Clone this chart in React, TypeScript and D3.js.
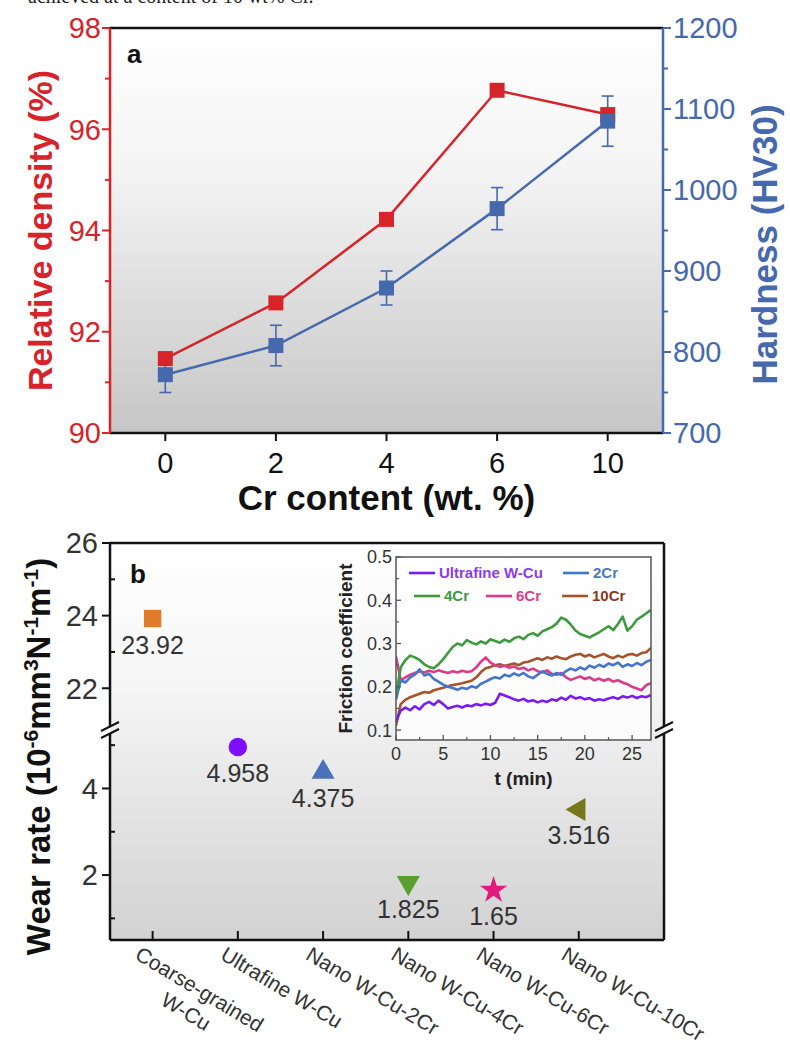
import React from 'react';
import * as d3 from 'd3';

const FONT = '"Liberation Sans", Arial, Helvetica, sans-serif';
const RED = '#d7232a';
const BLUE = '#4669ad';
const INK = '#333333';

// ---- Panel a: density and hardness vs Cr content ----
const crContent = ['0', '2', '4', '6', '10'];
const relativeDensity = [91.47, 92.57, 94.22, 96.77, 96.29];
const hardnessHV = [772, 808, 879, 977, 1085];
const hardnessErr = [22, 25, 21, 26, 31];
const densityTicks = [90, 92, 94, 96, 98];
const densityMinor = [91, 93, 95, 97];
const hardnessTicks = [700, 800, 900, 1000, 1100, 1200];
const hardnessMinor = [750, 850, 950, 1050, 1150];

// ---- Panel b: wear rate per sample ----
const sampleNames = [
  ['Coarse-grained', 'W-Cu'],
  ['Ultrafine W-Cu'],
  ['Nano W-Cu-2Cr'],
  ['Nano W-Cu-4Cr'],
  ['Nano W-Cu-6Cr'],
  ['Nano W-Cu-10Cr'],
];
const wearRate = [23.92, 4.958, 4.375, 1.825, 1.65, 3.516];
const wearLabel = ['23.92', '4.958', '4.375', '1.825', '1.65', '3.516'];
const wearColor = ['#e07b2a', '#7f0dff', '#4a72b8', '#5a9f2c', '#e2197f', '#77771c'];
const wearShape = ['square', 'circle', 'triangle', 'triangleDown', 'star', 'triangleLeft'];
const wearTicksUpper = [22, 24, 26];
const wearMinorUpper = [23, 25];
const wearTicksLower = [2, 4];
const wearMinorLower = [1, 3, 5];

// ---- Inset: friction coefficient vs time (sampled every 0.5 min) ----
const frictionStep = 0.5;
const fUltrafine = [
  0.120, 0.145, 0.152, 0.146, 0.155, 0.148, 0.160, 0.165, 0.158, 0.168,
  0.160, 0.150, 0.153, 0.156, 0.152, 0.157, 0.155, 0.160, 0.157, 0.161,
  0.158, 0.163, 0.184, 0.180, 0.176, 0.171, 0.168, 0.172, 0.166, 0.169,
  0.164, 0.168, 0.165, 0.171, 0.168, 0.175, 0.170, 0.179, 0.173, 0.176,
  0.171, 0.174, 0.168, 0.171, 0.169, 0.173, 0.176, 0.172, 0.178, 0.175,
  0.179, 0.174, 0.178, 0.176, 0.181,
];
const f2Cr = [
  0.170, 0.215, 0.210, 0.222, 0.228, 0.240, 0.226, 0.230, 0.218, 0.212,
  0.205, 0.200, 0.197, 0.193, 0.198, 0.195, 0.201, 0.198, 0.207, 0.212,
  0.218, 0.222, 0.219, 0.228, 0.224, 0.231, 0.226, 0.232, 0.224, 0.220,
  0.228, 0.236, 0.230, 0.226, 0.232, 0.228, 0.236, 0.242, 0.238, 0.245,
  0.240, 0.249, 0.244, 0.251, 0.246, 0.254, 0.250, 0.256, 0.246, 0.252,
  0.248, 0.255, 0.250, 0.258, 0.262,
];
const f4Cr = [
  0.180, 0.245, 0.262, 0.272, 0.268, 0.262, 0.252, 0.246, 0.243, 0.252,
  0.264, 0.278, 0.292, 0.300, 0.296, 0.308, 0.302, 0.298, 0.305, 0.300,
  0.310, 0.306, 0.302, 0.309, 0.304, 0.312, 0.316, 0.310, 0.320, 0.324,
  0.318, 0.328, 0.333, 0.338, 0.346, 0.360, 0.355, 0.344, 0.330, 0.322,
  0.318, 0.314, 0.320, 0.326, 0.333, 0.340, 0.331, 0.345, 0.362, 0.330,
  0.340, 0.355, 0.362, 0.370, 0.378,
];
const f6Cr = [
  0.270, 0.215, 0.222, 0.228, 0.232, 0.236, 0.233, 0.237, 0.234, 0.238,
  0.235, 0.232, 0.236, 0.233, 0.237, 0.234, 0.236, 0.245, 0.258, 0.268,
  0.256, 0.250, 0.246, 0.249, 0.244, 0.247, 0.241, 0.244, 0.238, 0.242,
  0.236, 0.233, 0.238, 0.230, 0.228, 0.232, 0.222, 0.216, 0.220, 0.224,
  0.218, 0.222, 0.215, 0.219, 0.214, 0.218, 0.212, 0.215, 0.210, 0.206,
  0.200, 0.196, 0.192, 0.204, 0.208,
];
const f10Cr = [
  0.110, 0.160, 0.170, 0.176, 0.180, 0.184, 0.188, 0.186, 0.192, 0.195,
  0.198, 0.201, 0.204, 0.206, 0.208, 0.211, 0.214, 0.222, 0.234, 0.243,
  0.246, 0.250, 0.252, 0.248, 0.251, 0.254, 0.250, 0.256, 0.258, 0.262,
  0.266, 0.262, 0.268, 0.265, 0.270, 0.266, 0.264, 0.270, 0.274, 0.276,
  0.270, 0.274, 0.268, 0.272, 0.276, 0.270, 0.266, 0.272, 0.268, 0.274,
  0.276, 0.272, 0.278, 0.280, 0.290,
];
const frictionSeries = [
  { name: '10Cr', color: '#a3542a', values: f10Cr },
  { name: '6Cr', color: '#dc3a8a', values: f6Cr },
  { name: '2Cr', color: '#4476cc', values: f2Cr },
  { name: '4Cr', color: '#3f9a3f', values: f4Cr },
  { name: 'Ultrafine W-Cu', color: '#7a1cf0', values: fUltrafine },
];
const timeTicks = [0, 5, 10, 15, 20, 25];
const timeMinor = [2.5, 7.5, 12.5, 17.5, 22.5];
const frictionTicks = [0.1, 0.2, 0.3, 0.4, 0.5];
const frictionMinor = [0.15, 0.25, 0.35, 0.45];

function symbolPath(shape: string): { d: string; rot: number } {
  switch (shape) {
    case 'square':
      return { d: d3.symbol().type(d3.symbolSquare).size(300)() as string, rot: 0 };
    case 'circle':
      return { d: d3.symbol().type(d3.symbolCircle).size(270)() as string, rot: 0 };
    case 'triangle':
      return { d: d3.symbol().type(d3.symbolTriangle).size(230)() as string, rot: 0 };
    case 'triangleDown':
      return { d: d3.symbol().type(d3.symbolTriangle).size(230)() as string, rot: 180 };
    case 'triangleLeft':
      return { d: d3.symbol().type(d3.symbolTriangle).size(230)() as string, rot: -90 };
    default:
      return { d: d3.symbol().type(d3.symbolStar).size(230)() as string, rot: 0 };
  }
}

export default function App() {
  // panel a geometry
  const aL = 110, aR = 663, aT = 28, aB = 433;
  const xA = d3.scaleLinear().domain([-0.5, 4.5]).range([aL, aR]);
  const yDen = d3.scaleLinear().domain([90, 98]).range([aB, aT]);
  const yHv = d3.scaleLinear().domain([700, 1200]).range([aB, aT]);

  const denLine = d3.line<number>().x((_, i) => xA(i)).y((d) => yDen(d))(relativeDensity) as string;
  const hvLine = d3.line<number>().x((_, i) => xA(i)).y((d) => yHv(d))(hardnessHV) as string;

  // panel b geometry (broken y axis)
  const bL = 110, bR = 664, bT = 543, bB = 940, brk = 730;
  const xB = d3.scaleLinear().domain([-0.5, 6]).range([bL, bR]);
  const yUp = d3.scaleLinear().domain([20.85, 26]).range([brk, bT]);
  const yLo = d3.scaleLinear().domain([0.5, 5.35]).range([bB, brk]);
  const yB = (v: number) => (v >= 15 ? yUp(v) : yLo(v));

  // inset geometry
  const iL = 396, iR = 651, iT = 557, iB = 740;
  const xI = d3.scaleLinear().domain([0, 27]).range([iL, iR]);
  const yI = d3.scaleLinear().domain([0.077, 0.5]).range([iB, iT]);
  const fLine = d3.line<number>().x((_, i) => xI(i * frictionStep)).y((d) => yI(d));

  const legendRows = [
    [
      { name: 'Ultrafine W-Cu', color: '#7a1cf0', x: 409 },
      { name: '2Cr', color: '#4476cc', x: 563 },
    ],
    [
      { name: '4Cr', color: '#3f9a3f', x: 414 },
      { name: '6Cr', color: '#dc3a8a', x: 486 },
      { name: '10Cr', color: '#a3542a', x: 562 },
    ],
  ];
  const legendTextColor: Record<string, string> = {
    'Ultrafine W-Cu': '#8a3ce8',
    '2Cr': '#4a78c8',
    '4Cr': '#3f9a3f',
    '6Cr': '#d8408c',
    '10Cr': '#8a3a22',
  };

  const catFont = 21;

  return (
    <svg
      width={790}
      height={1046}
      viewBox="0 0 790 1046"
      style={{ position: 'absolute', left: 0, top: 0, background: '#fff' }}
      fontFamily={FONT}
    >
      <defs>
        <linearGradient id="bgA" x1="0" y1="0" x2="0" y2="1">
          <stop offset="0" stopColor="#ffffff" />
          <stop offset="0.35" stopColor="#f4f4f4" />
          <stop offset="1" stopColor="#c6c6c6" />
        </linearGradient>
        <linearGradient id="bgB" x1="0" y1="0" x2="0" y2="1">
          <stop offset="0" stopColor="#ffffff" />
          <stop offset="0.35" stopColor="#f6f6f6" />
          <stop offset="1" stopColor="#d2d2d2" />
        </linearGradient>
        <clipPath id="insetClip">
          <rect x={iL} y={iT} width={iR - iL} height={iB - iT} />
        </clipPath>
      </defs>

      {/* caption line above the figure */}
      <text x={28} y={3} fontFamily="'Liberation Serif', serif" fontSize={20} fill="#222">
        achieved at a content of 10 wt% Cr.
      </text>

      {/* ================= Panel a ================= */}
      <rect x={aL} y={aT} width={aR - aL} height={aB - aT} fill="url(#bgA)" />
      <line x1={aL} x2={aR} y1={aT} y2={aT} stroke="#111" strokeWidth={2.5} />
      <line x1={aL} x2={aR} y1={aB} y2={aB} stroke="#111" strokeWidth={2.5} />
      <line x1={aL} x2={aL} y1={aT} y2={aB} stroke={RED} strokeWidth={2.5} />
      <line x1={aR} x2={aR} y1={aT} y2={aB} stroke={BLUE} strokeWidth={2.5} />

      {densityTicks.map((t) => (
        <g key={'dt' + t}>
          <line x1={aL - 8} x2={aL} y1={yDen(t)} y2={yDen(t)} stroke={RED} strokeWidth={2} />
          <text x={aL - 9} y={yDen(t)} dy="0.36em" textAnchor="end" fontSize={29} fill={RED}>
            {t}
          </text>
        </g>
      ))}
      {densityMinor.map((t) => (
        <line key={'dm' + t} x1={aL - 5} x2={aL} y1={yDen(t)} y2={yDen(t)} stroke={RED} strokeWidth={2} />
      ))}
      {hardnessTicks.map((t) => (
        <g key={'ht' + t}>
          <line x1={aR} x2={aR + 8} y1={yHv(t)} y2={yHv(t)} stroke={BLUE} strokeWidth={2} />
          <text x={aR + 10} y={yHv(t)} dy="0.36em" textAnchor="start" fontSize={29} fill={BLUE}>
            {t}
          </text>
        </g>
      ))}
      {hardnessMinor.map((t) => (
        <line key={'hm' + t} x1={aR} x2={aR + 5} y1={yHv(t)} y2={yHv(t)} stroke={BLUE} strokeWidth={2} />
      ))}
      {crContent.map((c, i) => (
        <g key={'cx' + c}>
          <line x1={xA(i)} x2={xA(i)} y1={aB} y2={aB + 8} stroke="#111" strokeWidth={2} />
          <text x={xA(i)} y={aB + 40} textAnchor="middle" fontSize={29} fill="#111">
            {c}
          </text>
        </g>
      ))}

      <text x={127} y={63} fontSize={26} fontWeight="bold" fill="#111">a</text>

      <path d={denLine} fill="none" stroke={RED} strokeWidth={2.5} />
      <path d={hvLine} fill="none" stroke={BLUE} strokeWidth={2.5} />
      {hardnessHV.map((v, i) => (
        <g key={'eb' + i} stroke={BLUE} strokeWidth={1.6}>
          <line x1={xA(i)} x2={xA(i)} y1={yHv(v - hardnessErr[i])} y2={yHv(v + hardnessErr[i])} />
          <line x1={xA(i) - 6} x2={xA(i) + 6} y1={yHv(v - hardnessErr[i])} y2={yHv(v - hardnessErr[i])} />
          <line x1={xA(i) - 6} x2={xA(i) + 6} y1={yHv(v + hardnessErr[i])} y2={yHv(v + hardnessErr[i])} />
        </g>
      ))}
      {relativeDensity.map((v, i) => (
        <rect key={'dp' + i} x={xA(i) - 7.5} y={yDen(v) - 7.5} width={15} height={15} fill={RED} />
      ))}
      {hardnessHV.map((v, i) => (
        <rect key={'hp' + i} x={xA(i) - 7.5} y={yHv(v) - 7.5} width={15} height={15} fill={BLUE} />
      ))}

      <text
        transform={`translate(52,${(aT + aB) / 2}) rotate(-90)`}
        textAnchor="middle"
        fontSize={34}
        fontWeight="bold"
        fill={RED}
      >
        Relative density (%)
      </text>
      <text
        transform={`translate(777,${(aT + aB) / 2 + 14}) rotate(-90)`}
        textAnchor="middle"
        fontSize={35}
        fontWeight="bold"
        fill={BLUE}
      >
        Hardness (HV30)
      </text>
      <text x={(aL + aR) / 2} y={510} textAnchor="middle" fontSize={35} fontWeight="bold" fill="#111">
        Cr content (wt. %)
      </text>

      {/* ================= Panel b ================= */}
      <rect x={bL} y={bT} width={bR - bL} height={bB - bT} fill="url(#bgB)" />
      <line x1={bL} x2={bR} y1={bT} y2={bT} stroke="#111" strokeWidth={2.5} />
      <line x1={bL} x2={bR} y1={bB} y2={bB} stroke="#111" strokeWidth={2.5} />
      <line x1={bL} x2={bL} y1={bT} y2={brk - 4} stroke="#111" strokeWidth={2.5} />
      <line x1={bL} x2={bL} y1={brk + 4} y2={bB} stroke="#111" strokeWidth={2.5} />
      <line x1={bR} x2={bR} y1={bT} y2={brk - 4} stroke="#111" strokeWidth={2.5} />
      <line x1={bR} x2={bR} y1={brk + 4} y2={bB} stroke="#111" strokeWidth={2.5} />
      {[bL, bR].map((x) => (
        <g key={'brk' + x} stroke="#111" strokeWidth={2}>
          <line x1={x - 9} x2={x + 9} y1={brk + 1} y2={brk - 8} />
          <line x1={x - 9} x2={x + 9} y1={brk + 8} y2={brk - 1} />
        </g>
      ))}

      {wearTicksUpper.map((t) => (
        <g key={'wu' + t}>
          <line x1={bL - 8} x2={bL} y1={yUp(t)} y2={yUp(t)} stroke="#111" strokeWidth={2} />
          <text x={bL - 12} y={yUp(t)} dy="0.36em" textAnchor="end" fontSize={29} fill={INK}>
            {t}
          </text>
        </g>
      ))}
      {wearTicksLower.map((t) => (
        <g key={'wl' + t}>
          <line x1={bL - 8} x2={bL} y1={yLo(t)} y2={yLo(t)} stroke="#111" strokeWidth={2} />
          <text x={bL - 12} y={yLo(t)} dy="0.36em" textAnchor="end" fontSize={29} fill={INK}>
            {t}
          </text>
        </g>
      ))}
      {wearMinorUpper.map((t) => (
        <line key={'wmu' + t} x1={bL} x2={bL + 5} y1={yUp(t)} y2={yUp(t)} stroke="#111" strokeWidth={2} />
      ))}
      {wearMinorLower.map((t) => (
        <line key={'wml' + t} x1={bL} x2={bL + 5} y1={yLo(t)} y2={yLo(t)} stroke="#111" strokeWidth={2} />
      ))}
      {sampleNames.map((lines, i) => (
        <g key={'sx' + i}>
          <line x1={xB(i)} x2={xB(i)} y1={bB - 9} y2={bB} stroke="#111" strokeWidth={2} />
          <g transform={`translate(${xB(i) - 10},${bB + 4}) rotate(31)`}>
            {lines.length === 1 ? (
              <text x={0} y={0} dy="0.8em" fontSize={catFont} fill={INK}>
                {lines[0]}
              </text>
            ) : (
              lines.map((s, k) => (
                <text key={s} x={72} y={k * 26} dy="0.8em" textAnchor="middle" fontSize={catFont} fill={INK}>
                  {s}
                </text>
              ))
            )}
          </g>
        </g>
      ))}

      <text x={130} y={583} fontSize={26} fontWeight="bold" fill="#111">b</text>

      {wearRate.map((v, i) => {
        const s = symbolPath(wearShape[i]);
        return (
          <g key={'wp' + i}>
            <path
              d={s.d}
              transform={`translate(${xB(i)},${yB(v)}) rotate(${s.rot})`}
              fill={wearColor[i]}
            />
            <text x={xB(i)} y={yB(v) + 35} textAnchor="middle" fontSize={25} fill={INK}>
              {wearLabel[i]}
            </text>
          </g>
        );
      })}

      <text
        transform={`translate(50,${(bT + bB) / 2 + 15}) rotate(-90)`}
        textAnchor="middle"
        fontSize={33}
        fontWeight="bold"
        fill="#111"
      >
        Wear rate (10<tspan dy="-12" fontSize={21}>-6</tspan>
        <tspan dy="12">mm</tspan>
        <tspan dy="-12" fontSize={21}>3</tspan>
        <tspan dy="12">N</tspan>
        <tspan dy="-12" fontSize={21}>-1</tspan>
        <tspan dy="12">m</tspan>
        <tspan dy="-12" fontSize={21}>-1</tspan>
        <tspan dy="12">)</tspan>
      </text>

      {/* ================= Inset ================= */}
      <rect x={iL} y={iT} width={iR - iL} height={iB - iT} fill="#ffffff" fillOpacity={0.75} />
      <g clipPath="url(#insetClip)">
        {frictionSeries.map((s) => (
          <path
            key={s.name}
            d={fLine(s.values) as string}
            fill="none"
            stroke={s.color}
            strokeWidth={2.6}
            strokeLinejoin="round"
          />
        ))}
      </g>
      <rect x={iL} y={iT} width={iR - iL} height={iB - iT} fill="none" stroke="#555" strokeWidth={1.5} />
      {timeTicks.map((t) => (
        <g key={'tt' + t}>
          <line x1={xI(t)} x2={xI(t)} y1={iB} y2={iB - 5} stroke="#555" strokeWidth={1.3} />
          <text x={xI(t)} y={iB + 20} textAnchor="middle" fontSize={18} fill={INK}>
            {t}
          </text>
        </g>
      ))}
      {timeMinor.map((t) => (
        <line key={'tm' + t} x1={xI(t)} x2={xI(t)} y1={iB} y2={iB - 3} stroke="#555" strokeWidth={1.2} />
      ))}
      {frictionTicks.map((t) => (
        <g key={'ft' + t}>
          <line x1={iL} x2={iL + 5} y1={yI(t)} y2={yI(t)} stroke="#555" strokeWidth={1.3} />
          <text x={iL - 4} y={yI(t)} dy="0.36em" textAnchor="end" fontSize={18} fill={INK}>
            {t.toFixed(1)}
          </text>
        </g>
      ))}
      {frictionMinor.map((t) => (
        <line key={'fm' + t} x1={iL} x2={iL + 3} y1={yI(t)} y2={yI(t)} stroke="#555" strokeWidth={1.2} />
      ))}
      <text x={(iL + iR) / 2} y={785} textAnchor="middle" fontSize={19} fontWeight="bold" fill="#222">
        t (min)
      </text>
      <text
        transform={`translate(352,${(iT + iB) / 2}) rotate(-90)`}
        textAnchor="middle"
        fontSize={19}
        fontWeight="bold"
        fill="#222"
      >
        Friction coefficient
      </text>

      {legendRows.map((row, r) =>
        row.map((it) => {
          const y = r === 0 ? 573 : 596;
          return (
            <g key={'lg' + it.name}>
              <line x1={it.x} x2={it.x + 26} y1={y} y2={y} stroke={it.color} strokeWidth={2.6} />
              <text x={it.x + 30} y={y} dy="0.36em" fontSize={15} fontWeight="bold" fill={legendTextColor[it.name]}>
                {it.name}
              </text>
            </g>
          );
        })
      )}
    </svg>
  );
}
